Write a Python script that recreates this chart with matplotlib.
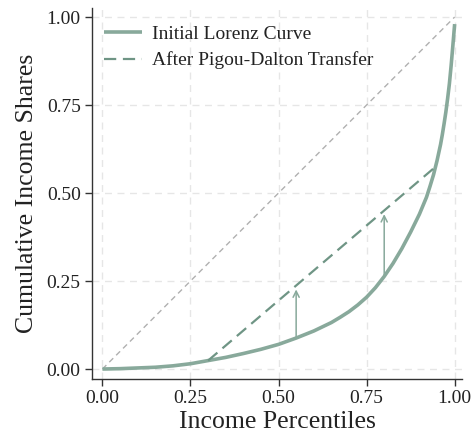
import matplotlib
matplotlib.use("Agg")
import matplotlib.pyplot as plt

# Data
percentiles = [0.0, 0.05, 0.10, 0.15, 0.20, 0.25, 0.30, 0.35, 0.40, 0.45, 0.50,
               0.55, 0.60, 0.65, 0.675, 0.70, 0.725, 0.75, 0.775, 0.80, 0.825, 0.85,
               0.875, 0.90, 0.92, 0.93, 0.94, 0.95, 0.96, 0.965, 0.97, 0.975, 0.98,
               0.985, 0.99, 0.995, 1.0]
lorenz = [0.0, 0.001, 0.003, 0.005, 0.009, 0.015, 0.024, 0.033, 0.044, 0.056, 0.070,
          0.088, 0.108, 0.132, 0.147, 0.163, 0.182, 0.204, 0.231, 0.263, 0.300, 0.342,
          0.389, 0.440, 0.488, 0.519, 0.552, 0.592, 0.638, 0.666, 0.697, 0.730, 0.768,
          0.810, 0.862, 0.920, 0.980]
transfer_x = [0.30, 0.945]
transfer_y = [0.024, 0.574]
equality_x = [0.0, 1.0]
equality_y = [0.0, 1.0]
arrow_x = [0.55, 0.80]
arrow_from = [0.090, 0.265]
arrow_to = [0.226, 0.440]
xticks = [0.0, 0.25, 0.5, 0.75, 1.0]
yticks = [0.0, 0.25, 0.5, 0.75, 1.0]
tick_labels = ["0.00", "0.25", "0.50", "0.75", "1.00"]

plt.rcParams['font.family'] = ['Liberation Serif', 'DejaVu Serif']

fig = plt.figure(figsize=(4.71, 4.38), dpi=100)
ax = fig.add_axes([0.195, 0.135, 0.786, 0.847])

solid_c = "#88a99b"
dash_c = "#6f9585"

ax.plot(equality_x, equality_y, color="#b0b0b0", lw=1.0, ls=(0, (4, 3)), zorder=2)
ax.plot(percentiles, lorenz, color=solid_c, lw=2.6, solid_capstyle='butt',
        solid_joinstyle='round', label="Initial Lorenz Curve", zorder=3)
ax.plot(transfer_x, transfer_y, color=dash_c, lw=1.6, ls=(0, (5.5, 3)),
        label="After Pigou-Dalton Transfer", zorder=3)

for xa, y0, y1 in zip(arrow_x, arrow_from, arrow_to):
    ax.annotate("", xy=(xa, y1), xytext=(xa, y0),
                arrowprops=dict(arrowstyle="->", color=solid_c, lw=1.1,
                                mutation_scale=11, shrinkA=0, shrinkB=0),
                zorder=4)

ax.set_xlim(-0.03, 1.021)
ax.set_ylim(-0.028, 1.026)
ax.set_xticks(xticks)
ax.set_xticklabels(tick_labels)
ax.set_yticks(yticks)
ax.set_yticklabels(tick_labels)

ax.grid(True, color="#e6e6e6", lw=1.0, ls=(0, (5, 4)), zorder=0)
ax.set_axisbelow(True)
for s in ["top", "right"]:
    ax.spines[s].set_visible(False)
for s in ["left", "bottom"]:
    ax.spines[s].set_color("#333333")
    ax.spines[s].set_linewidth(1.0)
ax.tick_params(direction="out", length=5, width=1.0, color="#333333",
               labelsize=14, labelcolor="#222222", pad=3)

ax.set_xlabel("Income Percentiles", fontsize=18.5, color="#222222", labelpad=3)
ax.set_ylabel("Cumulative Income Shares", fontsize=18.5, color="#222222", labelpad=6)

leg = ax.legend(loc="upper left", frameon=False, fontsize=14, handlelength=2.0,
                handletextpad=0.5, borderaxespad=0.3, labelspacing=0.45,
                bbox_to_anchor=(-0.005, 0.99))
for t in leg.get_texts():
    t.set_color("#222222")

fig.savefig("out.png", dpi=100)
